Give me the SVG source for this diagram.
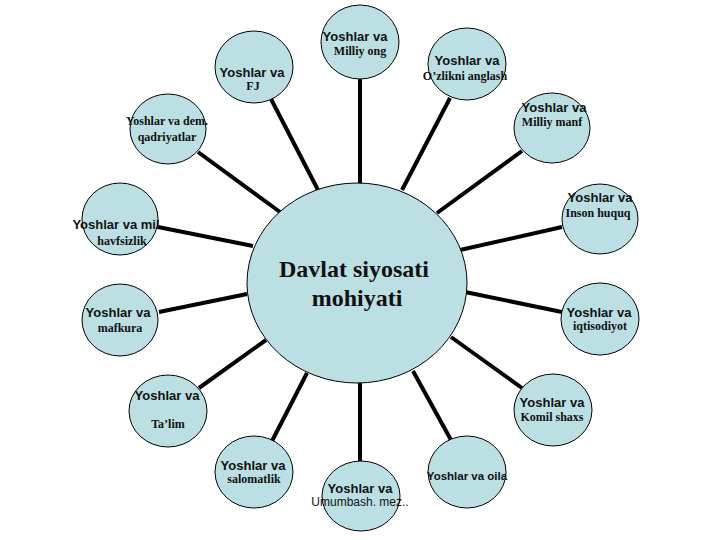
<svg xmlns="http://www.w3.org/2000/svg" width="720" height="540" viewBox="0 0 720 540">
<style>
.n{fill:#bbdfe3;stroke:#000;stroke-width:1}
.c line{stroke:#000;stroke-width:4}
.s{font-family:"Liberation Sans",Arial,sans-serif;font-weight:bold;font-size:13px;fill:#111;text-anchor:middle}
.r{font-family:"Liberation Serif","Times New Roman",serif;font-weight:bold;font-size:12px;fill:#111;text-anchor:middle}
.u{font-family:"Liberation Sans",Arial,sans-serif;font-size:12px;fill:#111;text-anchor:middle}
.big{font-family:"Liberation Serif","Times New Roman",serif;font-weight:bold;font-size:24px;fill:#111;text-anchor:middle}
</style>
<rect width="720" height="540" fill="#fff"/>
<g id="connectors" class="c">
<line x1="360" y1="79" x2="360" y2="184"/>
<line x1="271" y1="99" x2="318" y2="190"/>
<line x1="450" y1="98" x2="402" y2="190"/>
<line x1="198" y1="152" x2="280" y2="212"/>
<line x1="522" y1="151" x2="437" y2="213"/>
<line x1="158" y1="227" x2="253" y2="246"/>
<line x1="562" y1="227" x2="460" y2="250"/>
<line x1="159" y1="312" x2="247" y2="294"/>
<line x1="562" y1="312" x2="465" y2="292"/>
<line x1="199" y1="388" x2="266" y2="340"/>
<line x1="522" y1="388" x2="451" y2="337"/>
<line x1="272" y1="441" x2="307" y2="373"/>
<line x1="360" y1="461" x2="360" y2="383"/>
<line x1="451" y1="440" x2="413" y2="371"/>
</g>
<g id="center">
<ellipse class="n" cx="357" cy="283" rx="110" ry="100"/>
<text class="big" x="354" y="277">Davlat siyosati</text>
<text class="big" x="357" y="306">mohiyati</text>
</g>
<g id="milliy-ong">
<ellipse class="n" cx="360" cy="42" rx="39" ry="37"/>
<text class="s" x="355" y="41">Yoshlar va</text>
<text class="r" x="360" y="55">Milliy ong</text>
</g>
<g id="fj">
<ellipse class="n" cx="254" cy="67" rx="39" ry="36"/>
<text class="s" x="252" y="77">Yoshlar va</text>
<text class="r" x="253" y="90">FJ</text>
</g>
<g id="ozlikni">
<ellipse class="n" cx="467" cy="64" rx="39" ry="36"/>
<text class="s" x="467" y="65">Yoshlar va</text>
<text class="r" x="465" y="80">O’zlikni anglash</text>
</g>
<g id="milliy-manf">
<ellipse class="n" cx="552" cy="128" rx="38" ry="35"/>
<text class="s" x="554" y="112">Yoshlar va</text>
<text class="r" x="552" y="126">Milliy manf</text>
</g>
<g id="inson">
<ellipse class="n" cx="600" cy="219" rx="38" ry="35"/>
<text class="s" x="600" y="202">Yoshlar va</text>
<text class="r" x="598" y="217">Inson huquq</text>
</g>
<g id="dem">
<ellipse class="n" cx="168" cy="129" rx="38" ry="35"/>
<text class="r" x="167" y="125">Yoshlar va dem.</text>
<text class="r" x="167" y="141">qadriyatlar</text>
</g>
<g id="mil">
<ellipse class="n" cx="120" cy="219" rx="38" ry="36"/>
<text class="s" x="116" y="229">Yoshlar va mil</text>
<text class="r" x="122" y="245">havfsizlik</text>
</g>
<g id="mafkura">
<ellipse class="n" cx="120" cy="320" rx="38" ry="36"/>
<text class="s" x="118" y="317">Yoshlar va</text>
<text class="r" x="120" y="332">mafkura</text>
</g>
<g id="talim">
<ellipse class="n" cx="168" cy="411" rx="39" ry="36"/>
<text class="s" x="167" y="400">Yoshlar va</text>
<text class="r" x="168" y="428">Ta’lim</text>
</g>
<g id="iqtisodiyot">
<ellipse class="n" cx="600" cy="319" rx="39" ry="36"/>
<text class="s" x="599" y="317">Yoshlar va</text>
<text class="r" x="600" y="330">iqtisodiyot</text>
</g>
<g id="komil">
<ellipse class="n" cx="553" cy="410" rx="39" ry="36"/>
<text class="s" x="552" y="407">Yoshlar va</text>
<text class="r" x="552" y="421">Komil shaxs</text>
</g>
<g id="salomatlik">
<ellipse class="n" cx="254" cy="472" rx="39" ry="36"/>
<text class="s" x="253" y="470">Yoshlar va</text>
<text class="r" x="254" y="483">salomatlik</text>
</g>
<g id="umumbash">
<ellipse class="n" cx="361" cy="496" rx="39" ry="35"/>
<text class="s" x="360" y="493">Yoshlar va</text>
<text class="u" x="360" y="506">Umumbash. mez..</text>
</g>
<g id="oila">
<ellipse class="n" cx="467" cy="472" rx="39" ry="36"/>
<text class="s" x="467" y="480" style="font-size:11.5px">Yoshlar va oila</text>
</g>
</svg>
